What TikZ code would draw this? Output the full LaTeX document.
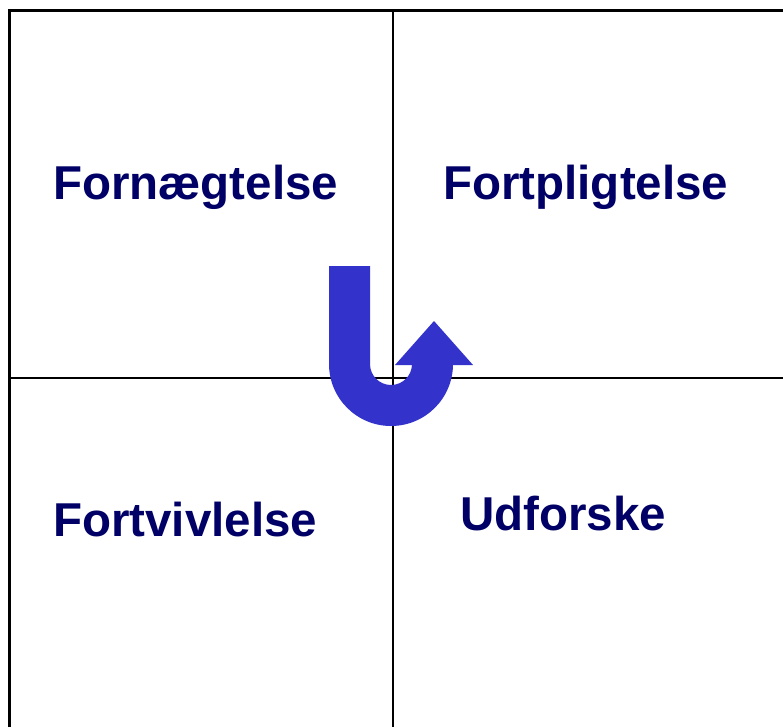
\documentclass[tikz,border=0pt]{standalone}
\usepackage{fontspec}
\setmainfont{Liberation Sans}
\definecolor{txtnavy}{RGB}{0,0,102}
\definecolor{arrowblue}{RGB}{51,51,204}
\begin{document}
\begin{tikzpicture}[x=1pt,y=-1pt,
  lbl/.style={anchor=base west,inner sep=0pt,text=txtnavy,font=\fontsize{47.5}{50}\selectfont\bfseries},
  gridline/.style={draw=black,line width=2.2pt}]
\useasboundingbox[fill=white] (0,0) rectangle (783,727);
% grid
\coordinate (tl) at (9.5,10.5);
\coordinate (tr) at (783,10.5);
\coordinate (bl) at (9.5,727);
\coordinate (mt) at (393,10.5);
\coordinate (mb) at (393,727);
\coordinate (ml) at (9.5,378);
\coordinate (mr) at (783,378);
\draw[gridline] (bl) -- (tl) -- (tr);
\draw[gridline] (mt) -- (mb);
\draw[gridline] (ml) -- (mr);
% U-turn arrow
\fill[arrowblue] (329,266) -- (370,266) -- (370,364)
  arc[start angle=180,end angle=0,radius=21]
  -- (412,365) -- (395,365) -- (434,321) -- (473,365) -- (453,365) -- (453,364)
  arc[start angle=0,end angle=180,radius=62] -- cycle;
% labels
\node[lbl] (q1) at (53,200) {Fornægtelse};
\node[lbl] (q2) at (443,200) {Fortpligtelse};
\node[lbl] (q3) at (53,536) {Fortvivlelse};
\node[lbl] (q4) at (460,530) {Udforske};
\end{tikzpicture}
\end{document}
